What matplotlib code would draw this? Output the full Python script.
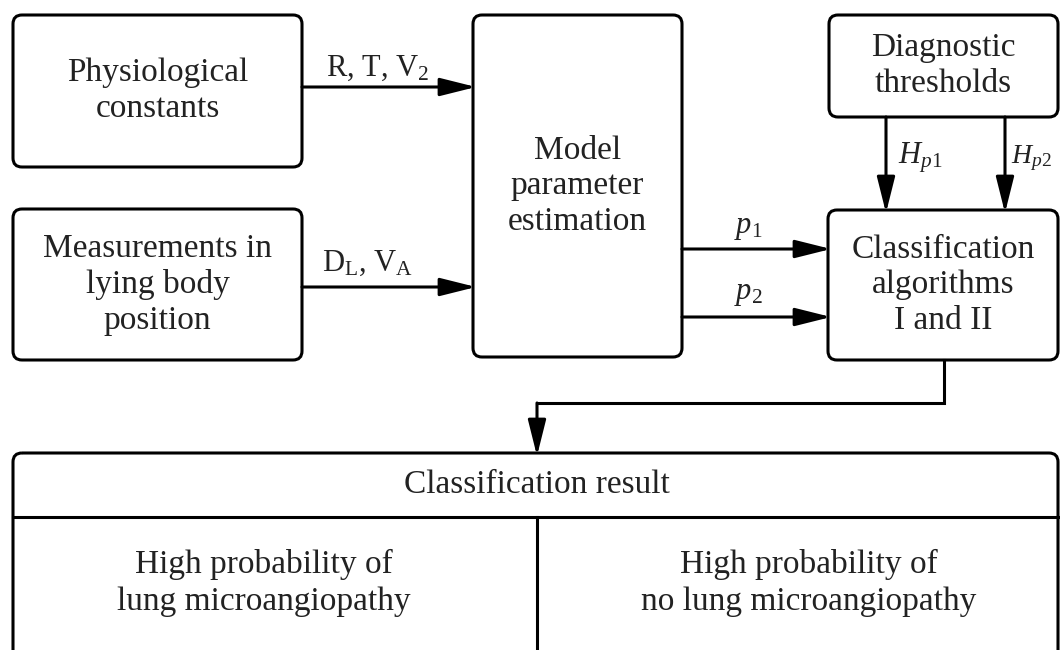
import matplotlib.pyplot as plt
from matplotlib.patches import FancyBboxPatch, FancyArrowPatch, ArrowStyle

plt.rcParams['font.family'] = ['Liberation Serif', 'DejaVu Serif']
plt.rcParams['mathtext.fontset'] = 'custom'
plt.rcParams['mathtext.rm'] = 'Liberation Serif'
plt.rcParams['mathtext.it'] = 'Liberation Serif:italic'

# boxes: (x0, y0, x1, y1) in pixels, y down
box_names = ['const', 'meas', 'model', 'diag', 'classif']
box_rects = [(13, 15, 302, 167),
             (13, 209, 302, 360),
             (473, 15, 682, 357),
             (829, 15, 1058, 117),
             (828, 210, 1058, 360)]
box_texts = ['Physiological\nconstants',
             'Measurements in\nlying body\nposition',
             'Model\nparameter\nestimation',
             'Diagnostic\nthresholds',
             'Classification\nalgorithms\nI and II']

# arrows: start, end, label, label position
arrow_starts = [(302, 87), (302, 287), (682, 249), (682, 317), (886, 117), (1005, 117)]
arrow_ends = [(476, 87), (476, 287), (831, 249), (831, 317), (886, 213), (1005, 213)]
arrow_labels = ['R, T, V$_\\mathrm{2}$', 'D$_\\mathrm{L}$, V$_\\mathrm{A}$',
                '$p_1$', '$p_2$', '$H_{p1}$', '$H_{p2}$']
label_xy = [(378, 68), (367, 263), (748, 228), (748, 294), (898, 158), (1011, 158)]
label_ha = ['center', 'center', 'center', 'center', 'left', 'left']
label_fs = [22, 22, 22, 22, 22, 20]

# bottom connector path
conn_x = [944, 944, 537, 537]
conn_y = [360, 403, 403, 456]

# result table
result_rect = (13, 453, 1058, 700)
result_header_y = 517
result_split_x = 537
result_title = 'Classification result'
result_cells = ['High probability of\nlung microangiopathy',
                'High probability of\nno lung microangiopathy']
result_cell_x = [264, 809]

LW = 2.2
FS = 24

fig = plt.figure(figsize=(10.6, 6.5), dpi=100)
ax = fig.add_axes([0, 0, 1, 1])
ax.set_xlim(0, 1060)
ax.set_ylim(650, 0)
ax.axis('off')

for (x0, y0, x1, y1), txt in zip(box_rects, box_texts):
    ax.add_patch(FancyBboxPatch((x0, y0), x1 - x0, y1 - y0,
                                boxstyle='round,pad=0,rounding_size=9',
                                fc='white', ec='black', lw=LW))
    ax.text((x0 + x1) / 2, (y0 + y1) / 2, txt, ha='center', va='center',
            fontsize=FS, linespacing=1.22, color='#222222')

head = ArrowStyle('-|>', head_length=22, head_width=5.5)
for s, e, lab, (lx, ly), ha, fs in zip(arrow_starts, arrow_ends, arrow_labels,
                                       label_xy, label_ha, label_fs):
    ax.add_patch(FancyArrowPatch(s, e, arrowstyle=head, mutation_scale=1,
                                 shrinkA=0, shrinkB=0, lw=LW, color='black'))
    ax.text(lx, ly, lab, ha=ha, va='center', fontsize=fs, color='#222222')

ax.plot(conn_x[:-1], conn_y[:-1], color='black', lw=LW, solid_joinstyle='miter')
ax.add_patch(FancyArrowPatch((conn_x[-2], conn_y[-2]), (conn_x[-1], conn_y[-1]),
                             arrowstyle=head, mutation_scale=1, shrinkA=0, shrinkB=0,
                             lw=LW, color='black'))

x0, y0, x1, y1 = result_rect
ax.add_patch(FancyBboxPatch((x0, y0), x1 - x0, y1 - y0,
                            boxstyle='round,pad=0,rounding_size=9',
                            fc='none', ec='black', lw=LW))
ax.plot([x0, x1], [result_header_y, result_header_y], color='black', lw=LW)
ax.plot([result_split_x, result_split_x], [result_header_y, y1], color='black', lw=LW)
ax.text(result_split_x, (y0 + result_header_y) / 2, result_title,
        ha='center', va='center', fontsize=FS, color='#222222')
for cx, txt in zip(result_cell_x, result_cells):
    ax.text(cx, 583, txt, ha='center', va='center', fontsize=FS,
            linespacing=1.28, color='#222222')

fig.savefig('out.png', dpi=100, facecolor='white')
